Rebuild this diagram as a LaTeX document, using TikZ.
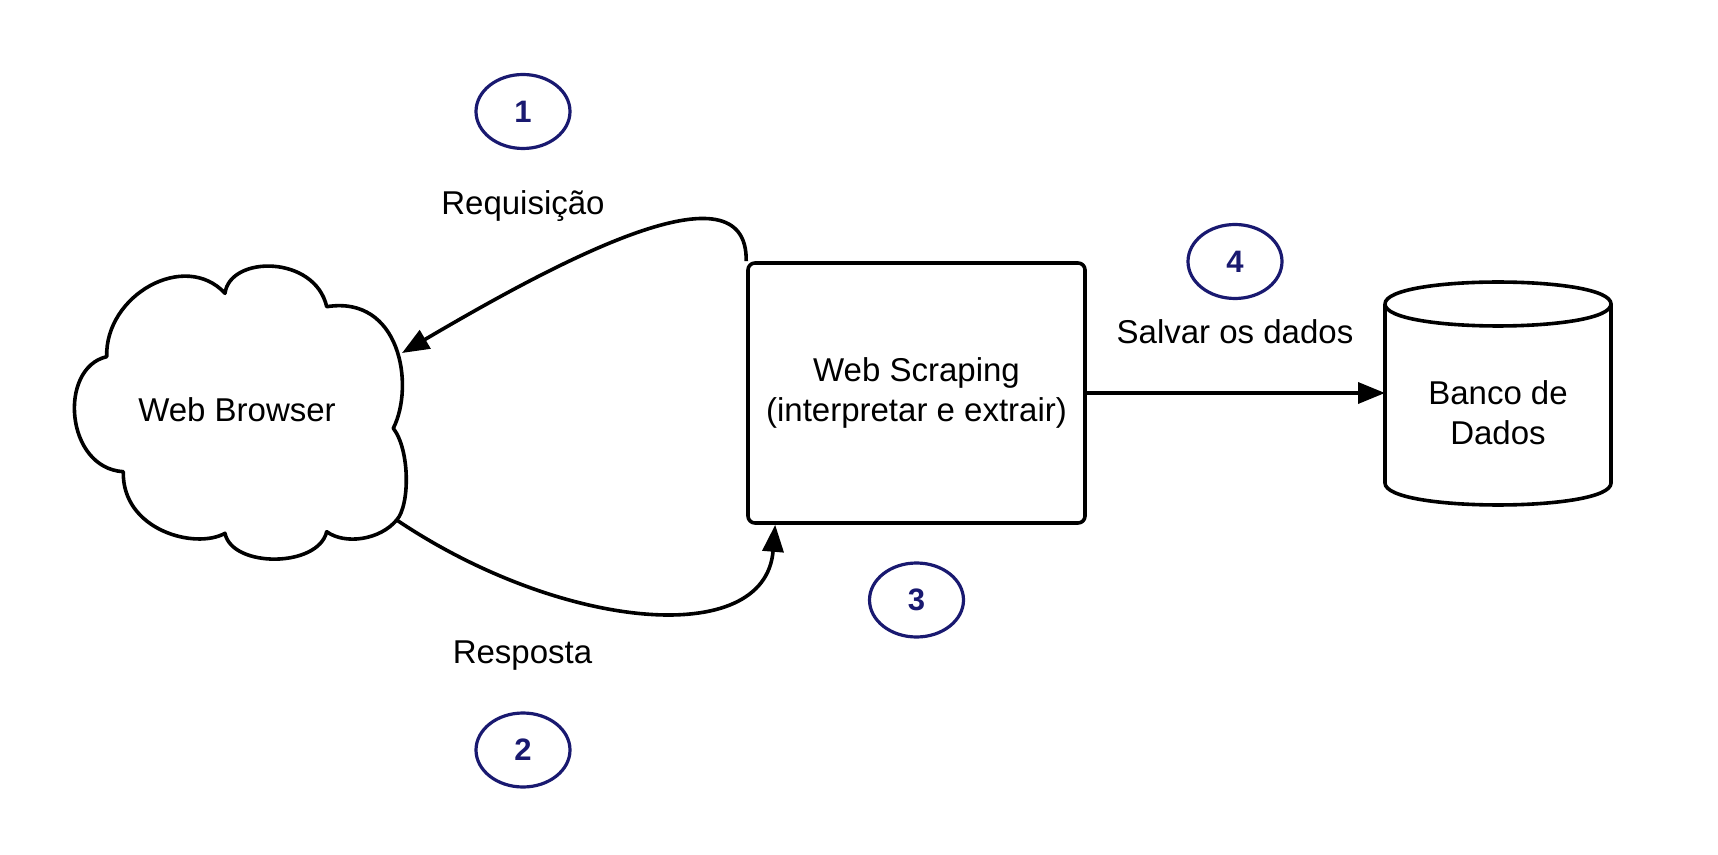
\documentclass[tikz,border=0pt]{standalone}
\usepackage{fontspec}
\setmainfont{Liberation Sans}
\usetikzlibrary{arrows.meta,shapes.geometric,calc}
\definecolor{navyc}{RGB}{25,25,112}
\begin{document}
\begin{tikzpicture}[x=0.5pt,y=-0.5pt,
  lbl/.style={font=\fontsize{16.5}{20}\selectfont, inner sep=0pt},
  thickline/.style={line width=1.8pt, line join=round},
  numc/.style={ellipse, draw=navyc, line width=1.6pt, minimum width=47pt, minimum height=37pt, inner sep=0pt, text=navyc, font=\fontsize{15.5}{18}\selectfont\bfseries},
  procbox/.style={thickline, draw, rectangle, rounded corners=3.5pt, minimum width=168.5pt, minimum height=130pt, align=center, lbl},
  conn/.style={line width=1.8pt, -{Triangle[length=13.5pt,width=10.5pt]}}
]
\useasboundingbox (0,0) rectangle (1718,855);
\fill[white] (0,0) rectangle (1718,855);

% cloud (Web Browser)
\draw[thickline] (106.7,356.7) .. controls (105,295) and (185,250) .. (225,293.3)
 .. controls (230,255) and (315,255) .. (326.7,306.7)
 .. controls (400,295) and (415,385) .. (393.3,428.3)
 .. controls (410,450) and (410,505) .. (396.7,520)
 .. controls (380,540) and (345,545) .. (326.7,531.7)
 .. controls (318,568) and (232,568) .. (225,533.3)
 .. controls (195,550) and (122,530) .. (123.3,471.7)
 .. controls (65,468) and (58,368) .. (106.7,356.7) -- cycle;
\node[lbl, anchor=base] (browser) at (237,421.7) {Web Browser};
\coordinate (cloudin) at (402,353);
\coordinate (cloudout) at (396.7,520);

% process box
\node[procbox] (scrap) at (916.5,393) {Web Scraping\\(interpretar e extrair)};
\coordinate (boxin) at ($(scrap.south west)+(29,0)$);

% database cylinder
\draw[thickline] (1385,304) .. controls (1385,274.7) and (1611,274.7) .. (1611,304)
  .. controls (1611,333.3) and (1385,333.3) .. (1385,304) -- cycle;
\draw[thickline] (1385,304) -- (1385,483) .. controls (1385,512.3) and (1611,512.3) .. (1611,483) -- (1611,304);
\node[lbl, align=center] (db) at (1498,413) {Banco de\\Dados};
\coordinate (dbin) at (1385,393);

% connectors
\draw[conn] (scrap.north west) .. controls (748,160) and (560,260) .. (cloudin);
\draw[conn] (cloudout) .. controls (560,630) and (765,650) .. (boxin);
\draw[conn] (scrap.east) -- (dbin);

% labels
\node[lbl, anchor=base] (req) at (523,215) {Requisição};
\node[lbl, anchor=base] (resp) at (522.5,663) {Resposta};
\node[lbl, anchor=base] (salv) at (1235,344) {Salvar os dados};

% step numbers
\node[numc] (n1) at (523,111.5) {1};
\node[numc] (n2) at (523,750) {2};
\node[numc] (n3) at (916.5,600) {3};
\node[numc] (n4) at (1235,261.5) {4};
\end{tikzpicture}
\end{document}
